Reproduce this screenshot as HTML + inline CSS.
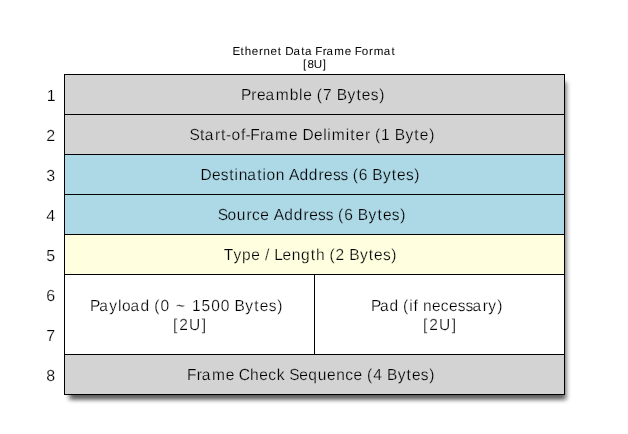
<!DOCTYPE html>
<html>
<head>
<meta charset="utf-8">
<style>
html,body{margin:0;padding:0;background:#fff;width:628px;height:434px;overflow:hidden;}
svg{display:block;will-change:transform;}
text{font-family:"Liberation Sans",sans-serif;fill:#000;text-rendering:geometricPrecision;white-space:pre;}
.t{font-size:16px;stroke-width:0.25px;}
.s{font-size:11.6px;stroke-width:0px;}
</style>
</head>
<body>
<svg width="628" height="434" viewBox="0 0 628 434">
<defs>
<filter id="blur" x="-5%" y="-5%" width="110%" height="110%"><feGaussianBlur stdDeviation="2.5 2.1"/></filter>
</defs>
<rect x="69.4" y="82" width="496.8" height="317.8" fill="#000" opacity="0.627" filter="url(#blur)"/>
<rect x="64" y="74" width="500" height="80" fill="#d3d3d3"/>
<rect x="64" y="154" width="500" height="80" fill="#add8e6"/>
<rect x="64" y="234" width="500" height="40" fill="#ffffe0"/>
<rect x="64" y="274" width="500" height="80" fill="#ffffff"/>
<rect x="64" y="354" width="500" height="40" fill="#d3d3d3"/>
<g stroke="#000" stroke-width="1" fill="none" shape-rendering="crispEdges">
<rect x="64.5" y="74.5" width="500" height="320"/>
<path d="M64 114.5H565M64 154.5H565M64 194.5H565M64 234.5H565M64 274.5H565M64 354.5H565M314.5 274V355"/>
</g>
<text class="s" stroke="#ffffff" x="232.55 240.57 244.76 251.80 259.07 263.46 270.48 277.71 280.93 285.30 293.60 301.26 304.91 311.36 315.25 322.65 326.47 334.24 344.78 351.23 354.70 361.71 368.98 373.68 383.77 391.42" y="55">Ethernet Data Frame Format</text>
<text class="s" stroke="#ffffff" x="303.12 307.38 313.69 322.66" y="68">[8U]</text>
<text class="t" transform="scale(0.97,1)" stroke="#d3d3d3" x="248.55 259.04 264.85 273.65 284.21 298.81 308.38 312.58 321.48 326.50 332.95 341.85 347.08 358.23 367.51 373.07 382.30 390.91" y="100">Preamble (7 Bytes)</text>
<text class="t" transform="scale(0.97,1)" stroke="#d3d3d3" x="195.47 206.26 211.13 221.55 227.76 233.07 238.67 248.41 253.19 258.04 268.07 273.19 283.64 297.91 306.81 311.92 323.77 333.19 337.42 342.07 356.43 361.02 366.51 376.35 381.67 386.56 392.89 401.78 406.92 417.98 427.19 432.68 442.48" y="140">Start-of-Frame Delimiter (1 Byte)</text>
<text class="t" transform="scale(0.97,1)" stroke="#add8e6" x="206.82 218.61 227.71 236.24 241.79 246.02 254.82 265.16 270.71 274.75 284.18 293.08 298.00 308.76 318.34 328.40 334.10 343.20 351.06 359.06 363.56 369.93 378.82 383.79 394.80 403.96 409.41 418.51 427.02" y="180">Destination Address (6 Bytes)</text>
<text class="t" transform="scale(0.97,1)" stroke="#add8e6" x="224.36 234.67 244.13 254.22 259.73 268.38 277.28 282.22 293.08 302.76 312.91 318.69 327.88 335.83 343.83 348.45 354.90 363.79 368.92 380.02 389.27 394.80 403.99 412.57" y="220">Source Address (6 Bytes)</text>
<text class="t" transform="scale(0.97,1)" stroke="#ffffe0" x="230.70 240.67 249.58 258.96 267.86 273.16 277.60 282.80 291.37 300.81 310.27 320.31 325.88 334.78 339.79 345.96 354.86 360.04 371.05 380.23 385.68 394.79 403.31" y="260">Type / Length (2 Bytes)</text>
<text class="t" transform="scale(0.97,1)" stroke="#ffffff" x="92.90 102.33 112.64 121.57 125.76 134.62 144.72 153.61 158.99 165.52 174.42 181.57 190.91 197.97 207.80 217.67 227.48 236.38 241.67 252.87 262.20 267.81 277.09 285.75" y="311">Payload (0 ~ 1500 Bytes)</text>
<text class="t" transform="scale(0.97,1)" stroke="#ffffff" x="178.32 184.78 194.73 207.95" y="330">[2U]</text>
<text class="t" transform="scale(0.97,1)" stroke="#ffffff" x="382.50 391.70 401.56 410.46 415.50 421.81 426.28 430.73 436.08 445.46 454.45 462.96 472.02 479.85 487.24 497.57 503.48 512.60" y="311">Pad (if necessary)</text>
<text class="t" transform="scale(0.97,1)" stroke="#ffffff" x="436.06 442.51 452.46 465.68" y="330">[2U]</text>
<text class="t" transform="scale(0.97,1)" stroke="#d3d3d3" x="192.81 202.88 208.03 218.52 232.83 241.73 246.24 257.81 267.35 276.46 285.36 293.36 298.08 308.44 317.84 327.57 337.15 346.67 355.92 364.56 373.46 378.41 384.85 393.75 398.86 409.95 419.19 424.71 433.89 442.47" y="380">Frame Check Sequence (4 Bytes)</text>
<text class="t" stroke="#ffffff" style="stroke-width:0.2px" x="46.76" y="101">1</text>
<text class="t" stroke="#ffffff" style="stroke-width:0.2px" x="46.15" y="141">2</text>
<text class="t" stroke="#ffffff" style="stroke-width:0.2px" x="46.37" y="181">3</text>
<text class="t" stroke="#ffffff" style="stroke-width:0.2px" x="46.35" y="221">4</text>
<text class="t" stroke="#ffffff" style="stroke-width:0.2px" x="46.29" y="261">5</text>
<text class="t" stroke="#ffffff" style="stroke-width:0.2px" x="46.35" y="301">6</text>
<text class="t" stroke="#ffffff" style="stroke-width:0.2px" x="46.32" y="341">7</text>
<text class="t" stroke="#ffffff" style="stroke-width:0.2px" x="46.35" y="381">8</text>
</svg>
</body>
</html>
